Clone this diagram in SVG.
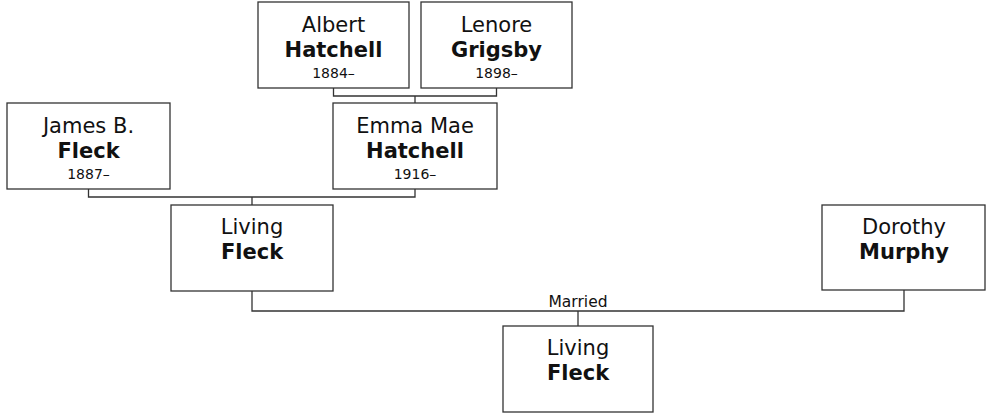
<svg xmlns="http://www.w3.org/2000/svg" width="988" height="413" viewBox="0 0 988 413">
<style>
.box{fill:#fff;stroke:#333;stroke-width:1.3}
.c{fill:none;stroke:#333;stroke-width:1.3}
text{font-family:"DejaVu Sans",Verdana,sans-serif;fill:#111;text-anchor:middle}
.n{font-size:21px}
.s{font-size:21px;font-weight:bold}
.y{font-size:14px}
.m{font-size:15.5px}
</style>
<rect width="988" height="413" fill="#fff"/>
<g id="connectors">
<path class="c" d="M333.5 88V96H496.5V88M415 96V103"/>
<path class="c" d="M88.5 189V197H415V189M252 197V205"/>
<path class="c" d="M252 291V311H904V290M578 311V326"/>
<text class="m" x="578" y="307">Married</text>
</g>
<g id="albert">
<rect class="box" x="258" y="2" width="151" height="86"/>
<text class="n" x="333.5" y="32">Albert</text>
<text class="s" x="333.5" y="57">Hatchell</text>
<text class="y" x="333.5" y="78">1884–</text>
</g>
<g id="lenore">
<rect class="box" x="421" y="2" width="151" height="86"/>
<text class="n" x="496.5" y="32">Lenore</text>
<text class="s" x="496.5" y="57">Grigsby</text>
<text class="y" x="496.5" y="78">1898–</text>
</g>
<g id="james">
<rect class="box" x="7" y="103" width="163" height="86"/>
<text class="n" x="88.5" y="133">James B.</text>
<text class="s" x="88.5" y="158">Fleck</text>
<text class="y" x="88.5" y="179">1887–</text>
</g>
<g id="emma">
<rect class="box" x="333" y="103" width="164" height="86"/>
<text class="n" x="415" y="133">Emma Mae</text>
<text class="s" x="415" y="158">Hatchell</text>
<text class="y" x="415" y="179">1916–</text>
</g>
<g id="living1">
<rect class="box" x="171" y="205" width="162" height="86"/>
<text class="n" x="252" y="234">Living</text>
<text class="s" x="252" y="259">Fleck</text>
</g>
<g id="dorothy">
<rect class="box" x="822" y="205" width="163" height="85"/>
<text class="n" x="904" y="234">Dorothy</text>
<text class="s" x="904" y="259">Murphy</text>
</g>
<g id="living2">
<rect class="box" x="503" y="326" width="150" height="86"/>
<text class="n" x="578" y="355">Living</text>
<text class="s" x="578" y="380">Fleck</text>
</g>
</svg>
